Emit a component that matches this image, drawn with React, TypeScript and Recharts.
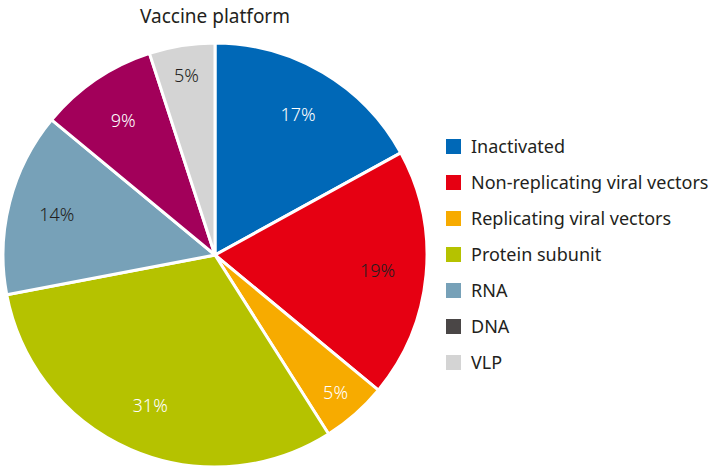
import { useEffect } from "react";
import { PieChart, Pie, Cell, Legend } from "recharts";

const platforms = [
  "Inactivated",
  "Non-replicating viral vectors",
  "Replicating viral vectors",
  "Protein subunit",
  "RNA",
  "DNA",
  "VLP",
];
const shares = [17, 19, 5, 31, 14, 9, 5];
const sliceColors = ["#0068b7", "#e60012", "#f7ab00", "#b5c200", "#77a1b8", "#a2005a", "#d4d4d4"];
const legendColors = ["#0068b7", "#e60012", "#f7ab00", "#b5c200", "#77a1b8", "#4a4646", "#d4d4d4"];
const labelColors = ["#ffffff", "#231f20", "#ffffff", "#ffffff", "#231f20", "#ffffff", "#231f20"];

const FONT = "'Noto Sans', sans-serif";
const RAD = Math.PI / 180;

const data = platforms.map((name, i) => ({ name, value: shares[i] }));

function renderLabel(props: any) {
  const { cx, cy, midAngle, outerRadius, index, value } = props;
  const r = value <= 5 ? outerRadius * 0.86 : outerRadius * 0.77;
  const x = cx + r * Math.cos(-midAngle * RAD);
  const y = cy + r * Math.sin(-midAngle * RAD);
  return (
    <text
      x={x}
      y={y}
      fill={labelColors[index]}
      textAnchor="middle"
      dominantBaseline="central"
      fontSize={18}
      fontFamily={FONT}
      fontWeight={300}
    >
      {value}%
    </text>
  );
}

function LegendList() {
  return (
    <div style={{ fontFamily: FONT, fontSize: 18, color: "#231f20" }}>
      {platforms.map((p, i) => (
        <div key={p} style={{ display: "flex", alignItems: "center", height: 36 }}>
          <span
            style={{
              display: "inline-block",
              width: 15,
              height: 15,
              background: legendColors[i],
              marginRight: 10,
            }}
          />
          <span>{p}</span>
        </div>
      ))}
    </div>
  );
}

export default function App() {
  useEffect(() => {
    document.body.style.margin = "0";
  }, []);

  return (
    <div style={{ width: 711, height: 469, background: "#fff", position: "relative" }}>
      <PieChart width={711} height={469} margin={{ top: 0, right: 0, bottom: 0, left: 0 }}>
        <text
          x={215}
          y={16}
          textAnchor="middle"
          dominantBaseline="central"
          fontSize={19}
          fontFamily={FONT}
          fill="#231f20"
        >
          Vaccine platform
        </text>
        <Pie
          data={data}
          dataKey="value"
          nameKey="name"
          cx={215}
          cy={255}
          outerRadius={212}
          startAngle={90}
          endAngle={-270}
          stroke="#ffffff"
          strokeWidth={3}
          label={renderLabel}
          labelLine={false}
          isAnimationActive={false}
        >
          {data.map((d, i) => (
            <Cell key={d.name} fill={sliceColors[i]} />
          ))}
        </Pie>
        <Legend
          layout="vertical"
          align="right"
          verticalAlign="top"
          wrapperStyle={{ left: 446, top: 128, width: 265 }}
          content={() => <LegendList />}
        />
      </PieChart>
    </div>
  );
}
